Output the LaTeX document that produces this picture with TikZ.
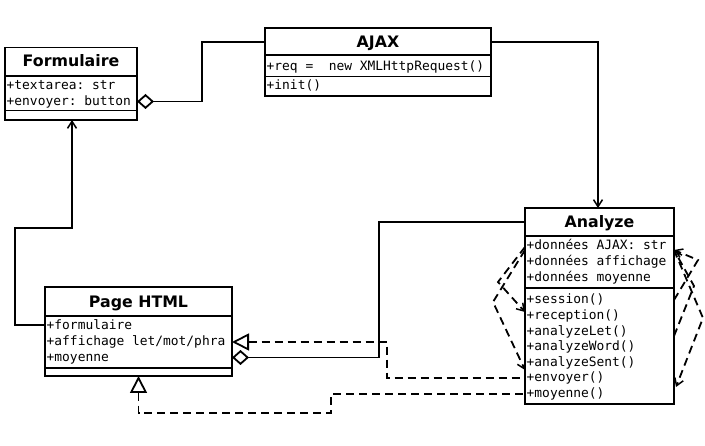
\documentclass[tikz,border=0pt]{standalone}
\usepackage{fontspec}
\setmainfont{DejaVu Sans}
\setmonofont{DejaVu Sans Mono}
\usetikzlibrary{arrows.meta}
\begin{document}
\begin{tikzpicture}[x=1pt,y=-1pt,
  box/.style={draw, line width=1.9pt, inner sep=0pt, outer sep=0pt, fill=white},
  title/.style={font=\fontsize{15.8}{18}\selectfont\bfseries, inner sep=0pt, anchor=base},
  member/.style={font=\fontsize{12.9}{16}\selectfont\ttfamily, inner sep=0pt, anchor=base west},
  sepline/.style={line width=1.9pt},
  conn/.style={line width=1.8pt},
  dconn/.style={line width=1.8pt, dash pattern=on 8pt off 5pt},
  barb/.tip={Straight Barb[length=7pt,width=9pt,line width=1.5pt]},
  hollowtri/.tip={Triangle[open,fill=white,length=17pt,width=17pt,line width=1.8pt]},
  hollowdia/.tip={Diamond[open,fill=white,length=17pt,width=15pt,line width=1.8pt]},
]
\useasboundingbox (0,0) rectangle (705,446);

% ---------- boxes ----------
\node[box, minimum width=132pt, minimum height=72.5pt] (form) at (71,83.75) {};
\node[box, minimum width=226pt, minimum height=68pt] (ajax) at (378,62) {};
\node[box, minimum width=149pt, minimum height=196pt] (ana) at (599.5,306) {};
\node[box, minimum width=187pt, minimum height=89pt] (page) at (138.5,331.5) {};

% separators
\draw[sepline] (form.west |- 0,76) -- (form.east |- 0,76);
\draw[sepline] (form.west |- 0,110.5) -- (form.east |- 0,110.5);
\draw[sepline] (ajax.west |- 0,55) -- (ajax.east |- 0,55);
\draw[sepline] (ajax.west |- 0,76.5) -- (ajax.east |- 0,76.5);
\draw[sepline] (ana.west |- 0,236) -- (ana.east |- 0,236);
\draw[sepline] (ana.west |- 0,288) -- (ana.east |- 0,288);
\draw[sepline] (page.west |- 0,316) -- (page.east |- 0,316);
\draw[sepline] (page.west |- 0,368) -- (page.east |- 0,368);

% ---------- texts ----------
\node[title] (formT) at (71,66.5) {Formulaire};
\node[member] (formA1) at (6.5,90) {+textarea: str};
\node[member] (formA2) at (6.5,106) {+envoyer: button};

\node[title] (ajaxT) at (378,48) {AJAX};
\node[member] (ajaxA1) at (266.5,70.5) {+req =\ \ new XMLHttpRequest()};
\node[member] (ajaxM1) at (266.5,89.5) {+init()};

\node[title] (anaT) at (599.5,228) {Analyze};
\node[member] (anaA1) at (526.5,249.5) {+données AJAX: str};
\node[member] (anaA2) at (526.5,265.5) {+données affichage};
\node[member] (anaA3) at (526.5,281.5) {+données moyenne};
\node[member] (anaM1) at (526.5,303.5) {+session()};
\node[member] (anaM2) at (526.5,319.5) {+reception()};
\node[member] (anaM3) at (526.5,335.5) {+analyzeLet()};
\node[member] (anaM4) at (526.5,351) {+analyzeWord()};
\node[member] (anaM5) at (526.5,366.5) {+analyzeSent()};
\node[member] (anaM6) at (526.5,382) {+envoyer()};
\node[member] (anaM7) at (526.5,397.5) {+moyenne()};

\node[title] (pageT) at (138.5,308) {Page HTML};
\node[member] (pageA1) at (46.5,330) {+formulaire};
\node[member] (pageA2) at (46.5,346) {+affichage let/mot/phra};
\node[member] (pageA3) at (46.5,361.5) {+moyenne};

% ---------- connectors ----------
% Formulaire <>-- AJAX
\draw[conn, hollowdia-] ([yshift=-17.75pt]form.east) -- ++(65,0) |- ([yshift=20pt]ajax.west);
% AJAX --> Analyze
\draw[conn, -barb] ([yshift=20pt]ajax.east) -| ([xshift=-1.5pt]ana.north);
% Page HTML --> Formulaire
\draw[conn, -barb] ([yshift=6.5pt]page.west) -- ++(-30,0) -- ++(0,-97) -| ([xshift=1pt]form.south);
% Page HTML <>-- Analyze
\draw[conn, hollowdia-] ([yshift=-26pt]page.east) -- ++(147,0) |- ([yshift=84pt]ana.west);
% dashed realizations
\draw[dconn, hollowtri-] ([yshift=-10.5pt]page.east) -- ++(155,0) |- ([yshift=-72pt]ana.west);
\draw[dconn, hollowtri-] (page.south) -- ++(0,37) -- ++(192.5,0) |- ([yshift=-88pt]ana.west);

% self dependencies on Analyze (left)
\draw[dconn, -barb] ([yshift=59pt]ana.west) -- ++(-27,35) -- ([yshift=-6pt]ana.west);
\draw[dconn, -barb] ([yshift=56pt]ana.west) -- ++(-32,52) -- ([yshift=-64pt]ana.west);
% self dependencies on Analyze (right)
\draw[dconn, -barb] ([yshift=56pt]ana.east) -- ++(29,68) -- ([yshift=-81pt,xshift=2pt]ana.east);
\draw[dconn, -barb] ([yshift=-30pt]ana.east) -- ++(20,-50) -- ([yshift=56pt]ana.east);
\draw[dconn, -barb] ([yshift=6pt]ana.east) -- ++(24,-40) -- ([yshift=56pt]ana.east);
\end{tikzpicture}
\end{document}
